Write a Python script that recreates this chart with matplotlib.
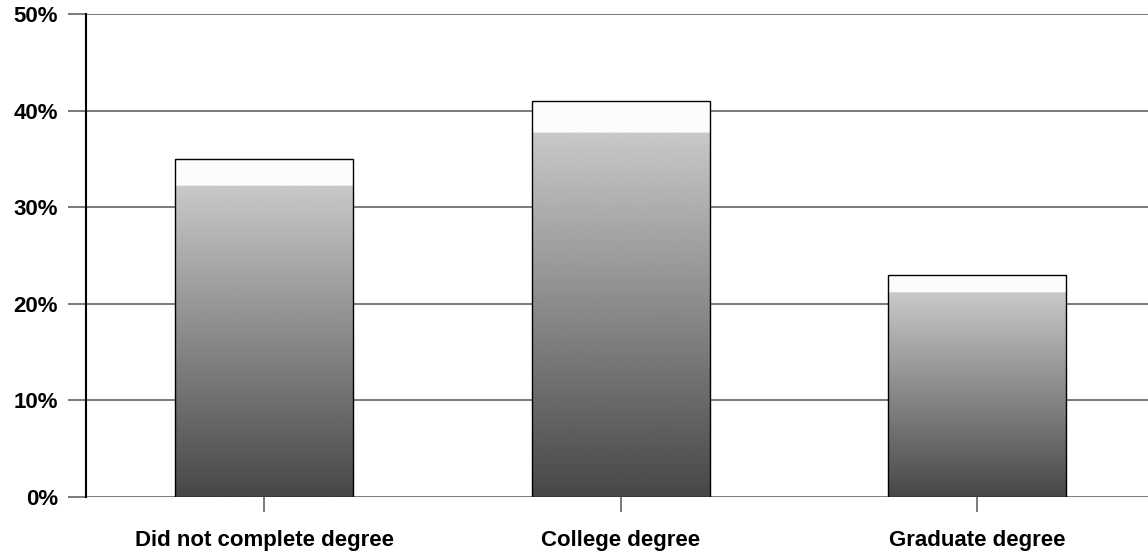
import matplotlib
matplotlib.use("Agg")
import matplotlib.pyplot as plt
import numpy as np
from matplotlib.patches import Rectangle

categories = ["Did not complete degree", "College degree", "Graduate degree"]
values = [35, 41, 23]
yticks = [0, 10, 20, 30, 40, 50]
ytick_labels = ["0%", "10%", "20%", "30%", "40%", "50%"]

plt.rcParams['font.family'] = ['Liberation Sans', 'DejaVu Sans']

fig = plt.figure(figsize=(11.48, 5.54), dpi=100)
W, H = 1148, 554
ax = fig.add_axes([86 / W, 57 / H, (W - 86) / W, (497 - 14) / H])

x = np.arange(len(categories))
width = 0.5

# gridlines
for yv in yticks:
    ax.axhline(yv, color="#707070", lw=1.3, zorder=1)

# gradient bars
t = np.linspace(0, 1, 256)
grad = 0.28 + 0.55 * t
grad = np.where(t > 0.92, 0.985, grad)
img = np.repeat(grad[:, None], 2, axis=1)
for xi, v in zip(x, values):
    rect = Rectangle((xi - width / 2, 0), width, v, facecolor="none",
                     edgecolor="black", lw=1.0, zorder=4)
    ax.add_patch(rect)
    im = ax.imshow(img, cmap="gray", vmin=0, vmax=1, origin="lower",
                   extent=(xi - width / 2, xi + width / 2, 0, v),
                   aspect="auto", zorder=3, interpolation="bilinear")
    im.set_clip_path(rect)

ax.set_xlim(-0.5, -0.5 + (W - 86) / 356.5)
ax.set_ylim(0, 50)
ax.set_yticks(yticks)
ax.set_yticklabels(ytick_labels, fontsize=16, fontweight="bold")
ax.set_xticks(x)
ax.set_xticklabels(categories, fontsize=16, fontweight="bold")
ax.tick_params(axis="y", length=13, width=1.3, color="#707070", pad=7)
ax.tick_params(axis="x", length=11, width=1.3, color="#707070", pad=13)

for s in ["top", "right", "bottom"]:
    ax.spines[s].set_visible(False)
ax.spines["left"].set_color("black")
ax.spines["left"].set_linewidth(1.5)
ax.spines["left"].set_zorder(5)

fig.savefig("out.png", dpi=100)
